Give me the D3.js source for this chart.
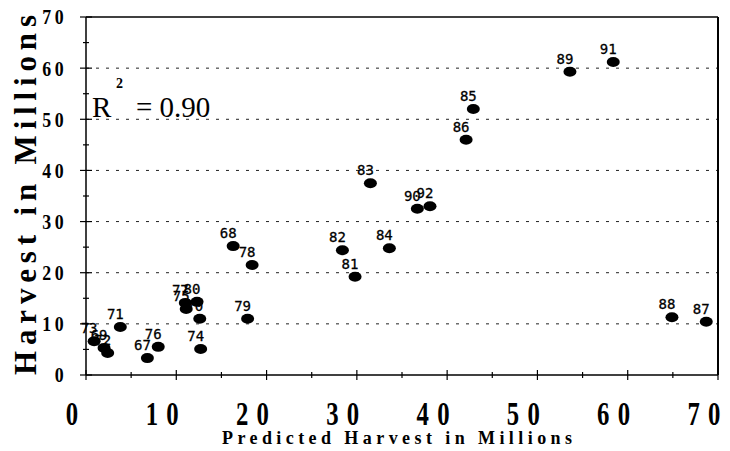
<!DOCTYPE html>
<html>
<head>
<meta charset="utf-8">
<script src="https://cdn.jsdelivr.net/npm/d3@7"></script>
<style>
  body { margin: 0; background: #fff; }
  svg { display: block; }
  .serif { font-family: "Liberation Serif", "DejaVu Serif", "Nimbus Roman", Tinos, "Times New Roman", serif; }
</style>
</head>
<body>
<svg id="chart" width="730" height="451"></svg>
<script>
// Season labels, predicted harvest (millions) and actual harvest (millions)
const years     = ["67","68","69","70","71","72","73","74","75","76","77","78","79",
                   "80","81","82","83","84","85","86","87","88","89","90","91","92"];
const predicted = [6.8, 16.3, 2.0, 12.6, 3.8, 2.4, 0.9, 12.7, 11.1, 8.0, 11.0, 18.4, 17.9,
                   12.3, 29.8, 28.4, 31.5, 33.6, 42.9, 42.1, 68.7, 64.9, 53.6, 36.7, 58.4, 38.1];
const harvest   = [3.3, 25.2, 5.3, 11.0, 9.4, 4.3, 6.6, 5.1, 12.9, 5.5, 14.1, 21.5, 11.0,
                   14.3, 19.2, 24.4, 37.5, 24.8, 52.0, 46.0, 10.4, 11.3, 59.3, 32.5, 61.2, 33.0];

const xTickValues = [0, 10, 20, 30, 40, 50, 60, 70];
const yTickValues = [0, 10, 20, 30, 40, 50, 60, 70];
const minorTickValues = [5, 15, 25, 35, 45, 55, 65];
const gridValues = [10, 20, 30, 40, 50, 60];
const rSquaredValue = "0.90";

const points = years.map((yr, i) => ({ year: yr, x: predicted[i], y: harvest[i] }));

const svg = d3.select("#chart");
const plotLeft = 86, plotRight = 718, plotTop = 17, plotBottom = 375;

const x = d3.scaleLinear().domain([0, 70]).range([plotLeft, plotRight]);
const y = d3.scaleLinear().domain([0, 70]).range([plotBottom, plotTop]);

// dotted horizontal gridlines
svg.append("g")
  .selectAll("line")
  .data(gridValues)
  .join("line")
  .attr("x1", plotLeft).attr("x2", plotRight)
  .attr("y1", d => y(d)).attr("y2", d => y(d))
  .attr("stroke", "#222")
  .attr("stroke-width", 1)
  .attr("stroke-dasharray", "3,7");

// frame: top and right border
svg.append("line").attr("x1", plotLeft).attr("x2", plotRight).attr("y1", plotTop).attr("y2", plotTop)
  .attr("stroke", "#000").attr("stroke-width", 1.5);
svg.append("line").attr("x1", plotRight).attr("x2", plotRight).attr("y1", plotTop).attr("y2", plotBottom)
  .attr("stroke", "#000").attr("stroke-width", 2);

// axis lines
svg.append("line").attr("x1", plotLeft).attr("x2", plotRight).attr("y1", plotBottom).attr("y2", plotBottom)
  .attr("stroke", "#000").attr("stroke-width", 1.5);
svg.append("line").attr("x1", plotLeft).attr("x2", plotLeft).attr("y1", plotTop).attr("y2", plotBottom)
  .attr("stroke", "#000").attr("stroke-width", 1.5);

// ticks crossing the axes
const tickG = svg.append("g").attr("stroke", "#000").attr("stroke-width", 1.2);
tickG.selectAll(".ymaj").data(yTickValues).join("line")
  .attr("class", "ymaj")
  .attr("x1", plotLeft - 6).attr("x2", plotLeft + 6)
  .attr("y1", d => y(d)).attr("y2", d => y(d));
tickG.selectAll(".ymin").data(minorTickValues).join("line")
  .attr("class", "ymin")
  .attr("x1", plotLeft - 3).attr("x2", plotLeft + 3)
  .attr("y1", d => y(d)).attr("y2", d => y(d));
tickG.selectAll(".xmaj").data(xTickValues).join("line")
  .attr("class", "xmaj")
  .attr("x1", d => x(d)).attr("x2", d => x(d))
  .attr("y1", plotBottom - 5).attr("y2", plotBottom + 5);
tickG.selectAll(".xmin").data(minorTickValues).join("line")
  .attr("class", "xmin")
  .attr("x1", d => x(d)).attr("x2", d => x(d))
  .attr("y1", plotBottom - 3).attr("y2", plotBottom + 3);

// y tick labels
svg.append("g")
  .selectAll("text")
  .data(yTickValues)
  .join("text")
  .attr("class", "serif")
  .attr("transform", d => `translate(67,${y(d)}) scale(0.85,1)`)
  .attr("dy", "0.35em")
  .attr("text-anchor", "end")
  .attr("font-weight", "bold")
  .attr("font-size", 21)
  .attr("letter-spacing", 4)
  .text(d => d);

// x tick labels (condensed bold digits)
svg.append("g")
  .selectAll("text")
  .data(xTickValues)
  .join("text")
  .attr("class", "serif")
  .attr("transform", d => `translate(${x(d) - 10},425) scale(0.75,1)`)
  .attr("text-anchor", "middle")
  .attr("font-weight", "bold")
  .attr("font-size", 33)
  .attr("letter-spacing", 11)
  .text(d => d);

// axis titles
svg.append("text")
  .attr("class", "serif")
  .attr("x", 397).attr("y", 444)
  .attr("text-anchor", "middle")
  .attr("font-weight", "bold")
  .attr("font-size", 18)
  .attr("textLength", 350)
  .attr("lengthAdjust", "spacing")
  .text("Predicted Harvest in Millions");

svg.append("text")
  .attr("class", "serif")
  .attr("transform", "translate(36,195) rotate(-90)")
  .attr("text-anchor", "middle")
  .attr("font-weight", "bold")
  .attr("font-size", 31)
  .attr("textLength", 360)
  .attr("lengthAdjust", "spacing")
  .text("Harvest in Millions");

// coefficient of determination
svg.append("text")
  .attr("class", "serif")
  .attr("x", 92).attr("y", 117)
  .attr("font-size", 29)
  .text("R");
svg.append("text")
  .attr("class", "serif")
  .attr("x", 116).attr("y", 88)
  .attr("font-weight", "bold")
  .attr("font-size", 14)
  .text("2");
svg.append("text")
  .attr("class", "serif")
  .attr("x", 136).attr("y", 117)
  .attr("font-size", 29)
  .text("= " + rSquaredValue);

// season labels, drawn beneath the markers
svg.append("g")
  .selectAll("text")
  .data(points)
  .join("text")
  .attr("x", d => x(d.x) - 5)
  .attr("y", d => y(d.y) - 8)
  .attr("text-anchor", "middle")
  .attr("font-family", "'DejaVu Sans Mono', monospace")
  .attr("font-size", 14)
  .attr("stroke", "#000")
  .attr("stroke-width", 0.3)
  .attr("fill", "#000")
  .text(d => d.year);

// markers
svg.append("g")
  .selectAll("ellipse")
  .data(points)
  .join("ellipse")
  .attr("cx", d => x(d.x))
  .attr("cy", d => y(d.y))
  .attr("rx", 6.5)
  .attr("ry", 5)
  .attr("fill", "#000");
</script>
</body>
</html>
